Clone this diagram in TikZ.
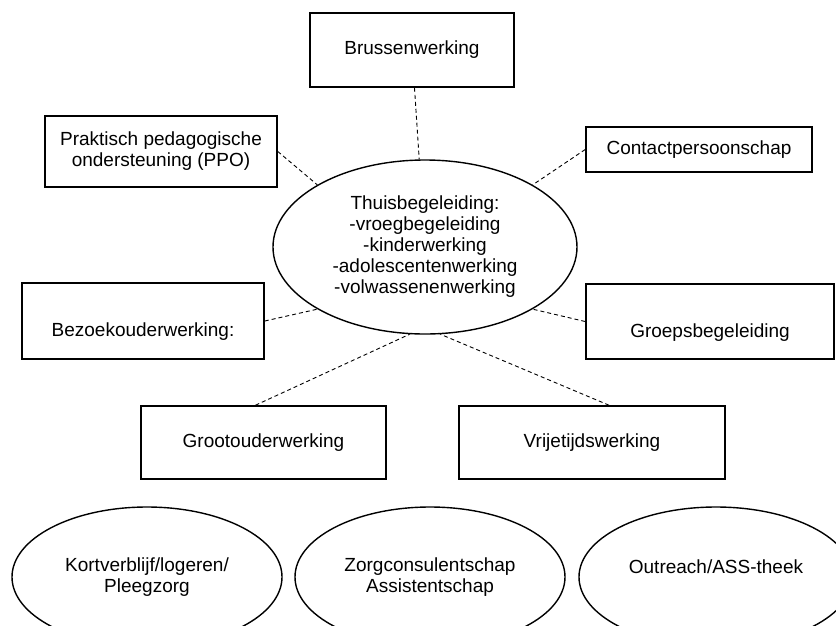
\documentclass[tikz,border=0pt]{standalone}
\usepackage{fontspec}
\setmainfont{Liberation Sans}
\usetikzlibrary{shapes.geometric}
\begin{document}
\begin{tikzpicture}[x=1pt,y=-1pt,
  font=\fontsize{19}{21}\selectfont,
  boxnode/.style={draw=black,line width=1.6pt,rectangle,align=center,inner sep=0pt},
  ovalnode/.style={draw=black,line width=1.4pt,ellipse,align=center,inner sep=0pt},
  link/.style={draw=black,line width=0.9pt,dash pattern=on 4pt off 3pt}]
\useasboundingbox (0,0) rectangle (836,625);
\clip (0,0) rectangle (836,625);
\node[ovalnode,minimum width=304pt,minimum height=174pt] (th) at (425,247)
  {Thuisbegeleiding:\\-vroegbegeleiding\\-kinderwerking\\-adolescentenwerking\\-volwassenenwerking};
\node[boxnode,minimum width=204pt,minimum height=74pt] (brus) at (412,50) {Brussenwerking};
\node[boxnode,minimum width=232pt,minimum height=71pt] (ppo) at (161,151.5) {Praktisch pedagogische\\ondersteuning (PPO)};
\node[boxnode,minimum width=226pt,minimum height=45pt] (contact) at (699,149.5) {Contactpersoonschap};
\node[boxnode,minimum width=242pt,minimum height=76pt,label={[yshift=-11pt,font=\fontsize{19}{21}\selectfont]center:Bezoekouderwerking:}] (bezoek) at (143,321) {};
\node[boxnode,minimum width=248pt,minimum height=75pt,label={[yshift=-11pt,font=\fontsize{19}{21}\selectfont]center:Groepsbegeleiding}] (groeps) at (710,321.5) {};
\node[boxnode,minimum width=245pt,minimum height=73pt] (groot) at (263.5,442.5) {Grootouderwerking};
\node[boxnode,minimum width=266pt,minimum height=73pt] (vrij) at (592,442.5) {Vrijetijdswerking};
\node[ovalnode,minimum width=270pt,minimum height=140pt] (kort) at (147,577) {Kortverblijf/logeren/\\Pleegzorg};
\node[ovalnode,minimum width=270pt,minimum height=140pt] (zorg) at (430,577) {Zorgconsulentschap\\Assistentschap};
\node[ovalnode,minimum width=274pt,minimum height=140pt] (outreach) at (716,577) {Outreach/ASS-theek\\~};
\draw[link] (brus) -- (th);
\draw[link] (ppo.east) -- (th.150);
\draw[link] (contact.west) -- (th.30);
\draw[link] (bezoek.east) -- (th.210);
\draw[link] (groeps.west) -- (th.-30);
\draw[link] ([xshift=-8pt]groot.north) -- (th.260);
\draw[link] ([xshift=17pt]vrij.north) -- (th.280);
\end{tikzpicture}
\end{document}
